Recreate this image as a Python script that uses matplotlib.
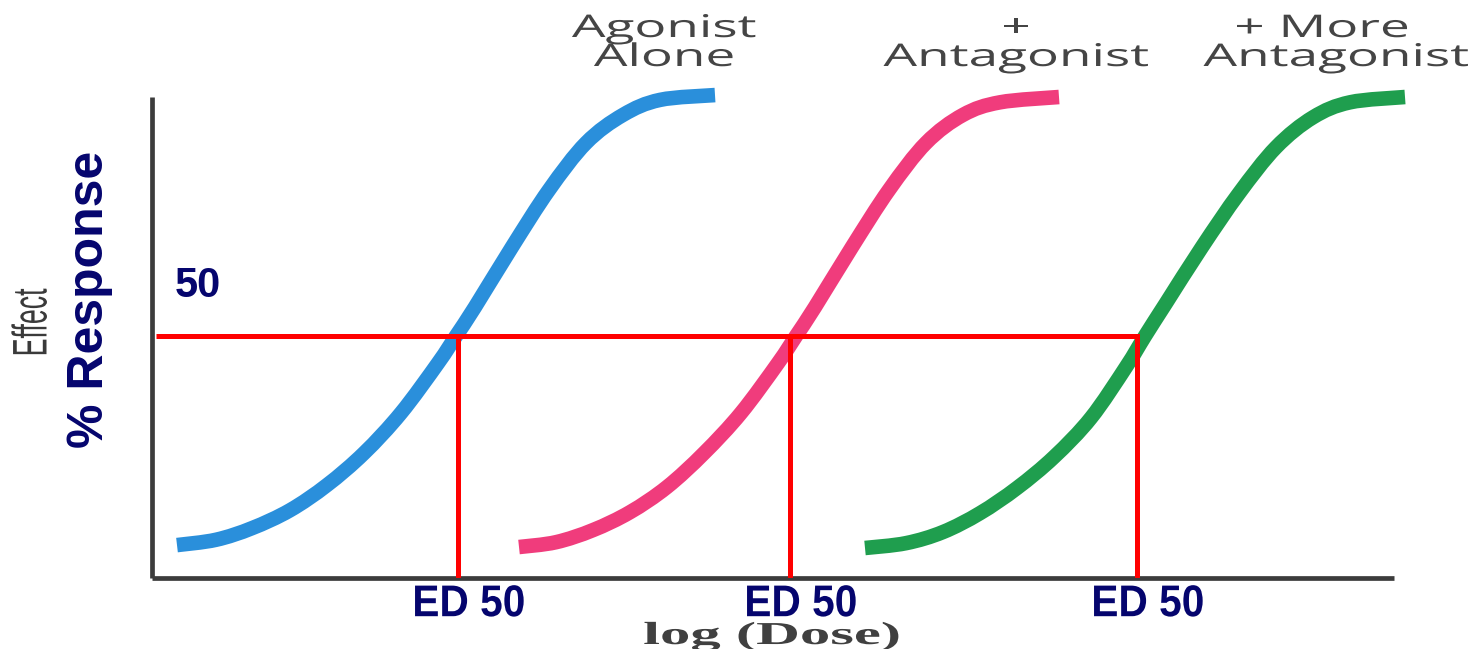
import numpy as np
import matplotlib
matplotlib.use("Agg")
import matplotlib.pyplot as plt
from matplotlib.path import Path
from matplotlib.patches import PathPatch
from matplotlib.patheffects import AbstractPathEffect
from matplotlib.transforms import Affine2D

# log(dose) in arbitrary units, % response
dose_agonist = [0.25, 0.64, 1.00, 1.38, 1.75, 2.12, 2.49, 2.86, 3.04, 3.23, 3.60, 3.97, 4.34, 4.71, 5.08, 5.63]
resp_agonist = [6.8, 7.9, 10.3, 14.0, 19.2, 25.8, 34.1, 44.4, 50.0, 56.0, 68.4, 80.2, 89.9, 95.7, 98.8, 99.8]

dose_antag = [3.67, 4.04, 4.41, 4.78, 5.15, 5.52, 5.89, 6.26, 6.44, 6.63, 7.00, 7.37, 7.74, 8.11, 8.48, 9.07]
resp_antag = [6.4, 7.4, 9.9, 13.6, 18.8, 25.8, 34.1, 44.4, 50.0, 56.0, 68.4, 80.2, 89.9, 95.7, 98.3, 99.4]

dose_more = [7.13, 7.54, 7.91, 8.28, 8.65, 9.02, 9.39, 9.74, 9.93, 10.14, 10.50, 10.87, 11.24, 11.61, 11.98, 12.53]
resp_more = [6.2, 7.2, 9.5, 13.4, 18.6, 25.0, 33.1, 43.6, 50.0, 56.8, 68.4, 79.5, 89.0, 95.2, 98.3, 99.4]

ed50_doses = [3.06, 6.38, 9.85]
half_response = 50
ed50_label = "ED 50"
curve_labels = ["Agonist\nAlone", "+\nAntagonist", "+ More\nAntagonist"]
curve_colors = ["#2a8fdb", "#f03c7c", "#1f9e4e"]

NAVY = "#05056e"
GRAY = "#404040"
W, H = 1468, 649


class Stretch(AbstractPathEffect):
    """scale the drawn glyphs about their own centre (display coords)"""
    def __init__(self, sx=1.0, sy=1.0):
        super().__init__()
        self.sx, self.sy = sx, sy

    def draw_path(self, renderer, gc, tpath, affine, rgbFace=None):
        ext = tpath.get_extents(affine)
        cx, cy = (ext.x0 + ext.x1) / 2, (ext.y0 + ext.y1) / 2
        t = affine + Affine2D().translate(-cx, -cy).scale(self.sx, self.sy).translate(cx, cy)
        renderer.draw_path(gc, tpath, t, rgbFace)


def smooth_path(xs, ys):
    # catmull-rom through the read points, drawn as bezier segments
    p = np.column_stack([xs, ys])
    verts, codes = [p[0]], [Path.MOVETO]
    n = len(p)
    for i in range(n - 1):
        p0 = p[max(i - 1, 0)]
        p3 = p[min(i + 2, n - 1)]
        c1 = p[i] + (p[i + 1] - p0) / 6
        c2 = p[i + 1] - (p3 - p[i]) / 6
        verts += [c1, c2, p[i + 1]]
        codes += [Path.CURVE4] * 3
    return Path(verts, codes)


def fx(px):
    return px / W


def fy(py):
    return 1 - py / H


fig = plt.figure(figsize=(W / 100, H / 100), dpi=100)
ax = fig.add_axes([fx(152), fy(578), fx(1394) - fx(152), fy(97) - fy(578)])
ax.set_xlim(0, 12.42)
ax.set_ylim(0, 99.4)

for s in ["top", "right"]:
    ax.spines[s].set_visible(False)
for s in ["left", "bottom"]:
    ax.spines[s].set_color("#3c3c3c")
    ax.spines[s].set_linewidth(3.4)
    ax.spines[s].set_capstyle("butt")
ax.set_xticks([])
ax.set_yticks([])

curves = [(dose_agonist, resp_agonist), (dose_antag, resp_antag), (dose_more, resp_more)]
for (xs, ys), c in zip(curves, curve_colors):
    patch = PathPatch(smooth_path(xs, ys), facecolor="none", edgecolor=c, lw=10.5,
                      capstyle="butt", joinstyle="round", clip_on=False, zorder=2)
    ax.add_patch(patch)

# red ED50 guide lines
ax.plot([0.04, ed50_doses[-1] + 0.02], [half_response, half_response], color="red", lw=3.6,
        solid_capstyle="butt", zorder=3)
for ed in ed50_doses:
    ax.plot([ed, ed], [0, half_response], color="red", lw=3.6, solid_capstyle="projecting", zorder=3)
    ax.annotate(ed50_label, xy=(ed, 0), xytext=(7.8, -27.5), textcoords="offset points",
                ha="center", va="baseline", fontsize=32, fontweight="bold", color=NAVY,
                family="Liberation Sans", path_effects=[Stretch(0.915, 1.0)])

ax.text(0.46, 58.1, "50", ha="center", va="baseline", fontsize=30, fontweight="bold",
        color=NAVY, family="Liberation Sans")

# y labels
fig.text(fx(90), fy(299), "% Response", rotation=90, ha="center", va="center", fontsize=36,
         fontweight="bold", color=NAVY, family="Liberation Sans")
fig.text(fx(34), fy(323), "Effect", rotation=90, ha="center", va="center", fontsize=35,
         color="#3a3a3a", family="Liberation Sans", path_effects=[Stretch(1.0, 0.55)])

# x label
fig.text(fx(772), fy(644), "log (Dose)", ha="center", va="baseline", fontsize=23,
         fontweight="bold", color=GRAY, family="Liberation Serif", path_effects=[Stretch(1.9, 1.0)])

# curve titles at the top, centre of each line in pixels
label_x = [(664, 664), (1016, 1016), (1322, 1336)]
for lab, xs in zip(curve_labels, label_x):
    for line, x, base in zip(lab.split("\n"), xs, [37, 66]):
        fig.text(fx(x), fy(base), line, ha="center", va="baseline", fontsize=22.5,
                 color="#454545", family="Open Sans", path_effects=[Stretch(1.7, 1.0)])

fig.savefig("out.png", dpi=100)
